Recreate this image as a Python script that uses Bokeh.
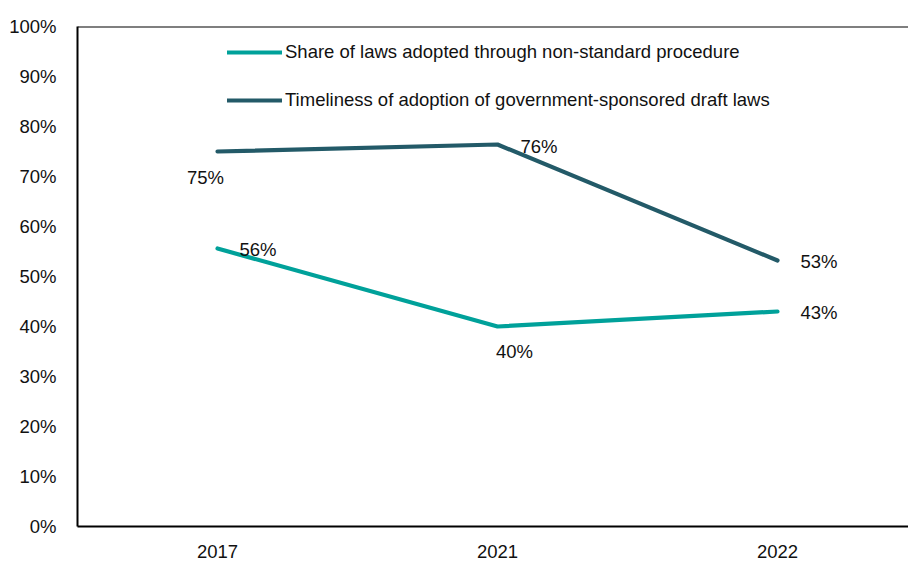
from bokeh.plotting import figure
from bokeh.models import (ColumnDataSource, Range1d, FixedTicker, Legend, LegendItem,
                          NumeralTickFormatter, Span)
from bokeh.core.properties import value
from bokeh.embed import file_html
from bokeh.resources import INLINE

years = ["2017", "2021", "2022"]
share_nonstandard = [0.556, 0.40, 0.43]
timeliness = [0.75, 0.764, 0.532]
share_labels = ["56%", "40%", "43%"]
time_labels = ["75%", "76%", "53%"]
y_ticks = [0, 0.1, 0.2, 0.3, 0.4, 0.5, 0.6, 0.7, 0.8, 0.9, 1.0]

TEAL = "#00A19A"
DARK = "#235A68"
FONT = "Liberation Sans"
FS = "18.5px"

xs = list(range(len(years)))

p = figure(width=908, height=560, output_backend="svg", toolbar_location=None,
           x_range=Range1d(-0.5, -0.5 + 831 / 280), y_range=Range1d(0, 1.0),
           min_border_left=77, min_border_right=0, min_border_top=26, min_border_bottom=33)
p.outline_line_color = None
p.grid.visible = False
p.background_fill_color = "white"

src_s = ColumnDataSource(dict(x=xs, y=share_nonstandard, lab=share_labels,
                              xo=[22, 17, 23], yo=[1, 25, 1], al=["left", "center", "left"]))
src_t = ColumnDataSource(dict(x=xs, y=timeliness, lab=time_labels,
                              xo=[-12, 23, 23], yo=[26, 2, 1], al=["center", "left", "left"]))

r1 = p.line("x", "y", source=src_s, line_color=TEAL, line_width=4.2, line_cap="round", line_join="round")
r2 = p.line("x", "y", source=src_t, line_color=DARK, line_width=4.2, line_cap="round", line_join="round")

for src in (src_s, src_t):
    p.text("x", "y", text="lab", source=src, x_offset="xo", y_offset="yo", text_align="al",
           text_baseline="middle", text_font=value(FONT), text_font_size=FS, text_color="#111111")

legend = Legend(items=[
    LegendItem(label="Share of laws adopted through non-standard procedure", renderers=[r1]),
    LegendItem(label="Timeliness of adoption of government-sponsored draft laws", renderers=[r2]),
], location=(150, 415), padding=0, margin=0, spacing=26, glyph_width=55, glyph_height=20,
    label_height=20, label_standoff=3, border_line_color=None, background_fill_alpha=0,
    label_text_font=FONT, label_text_font_size=FS, label_text_color="#111111")
p.add_layout(legend)

p.add_layout(Span(location=1.0, dimension="width", line_color="black", line_width=2))

p.yaxis.ticker = FixedTicker(ticks=y_ticks)
p.yaxis.formatter = NumeralTickFormatter(format="0%")
p.xaxis.ticker = FixedTicker(ticks=xs)
p.xaxis.major_label_overrides = {i: y for i, y in enumerate(years)}
for ax in (p.xaxis, p.yaxis):
    ax.axis_line_color = "black"
    ax.axis_line_width = 2
    ax.major_tick_line_color = None
    ax.minor_tick_line_color = None
    ax.major_label_text_font = FONT
    ax.major_label_text_font_size = FS
    ax.major_label_text_color = "#111111"
p.yaxis.major_label_standoff = 15
p.xaxis.major_label_standoff = 12

open("out.html", "w").write(file_html(p, INLINE))
